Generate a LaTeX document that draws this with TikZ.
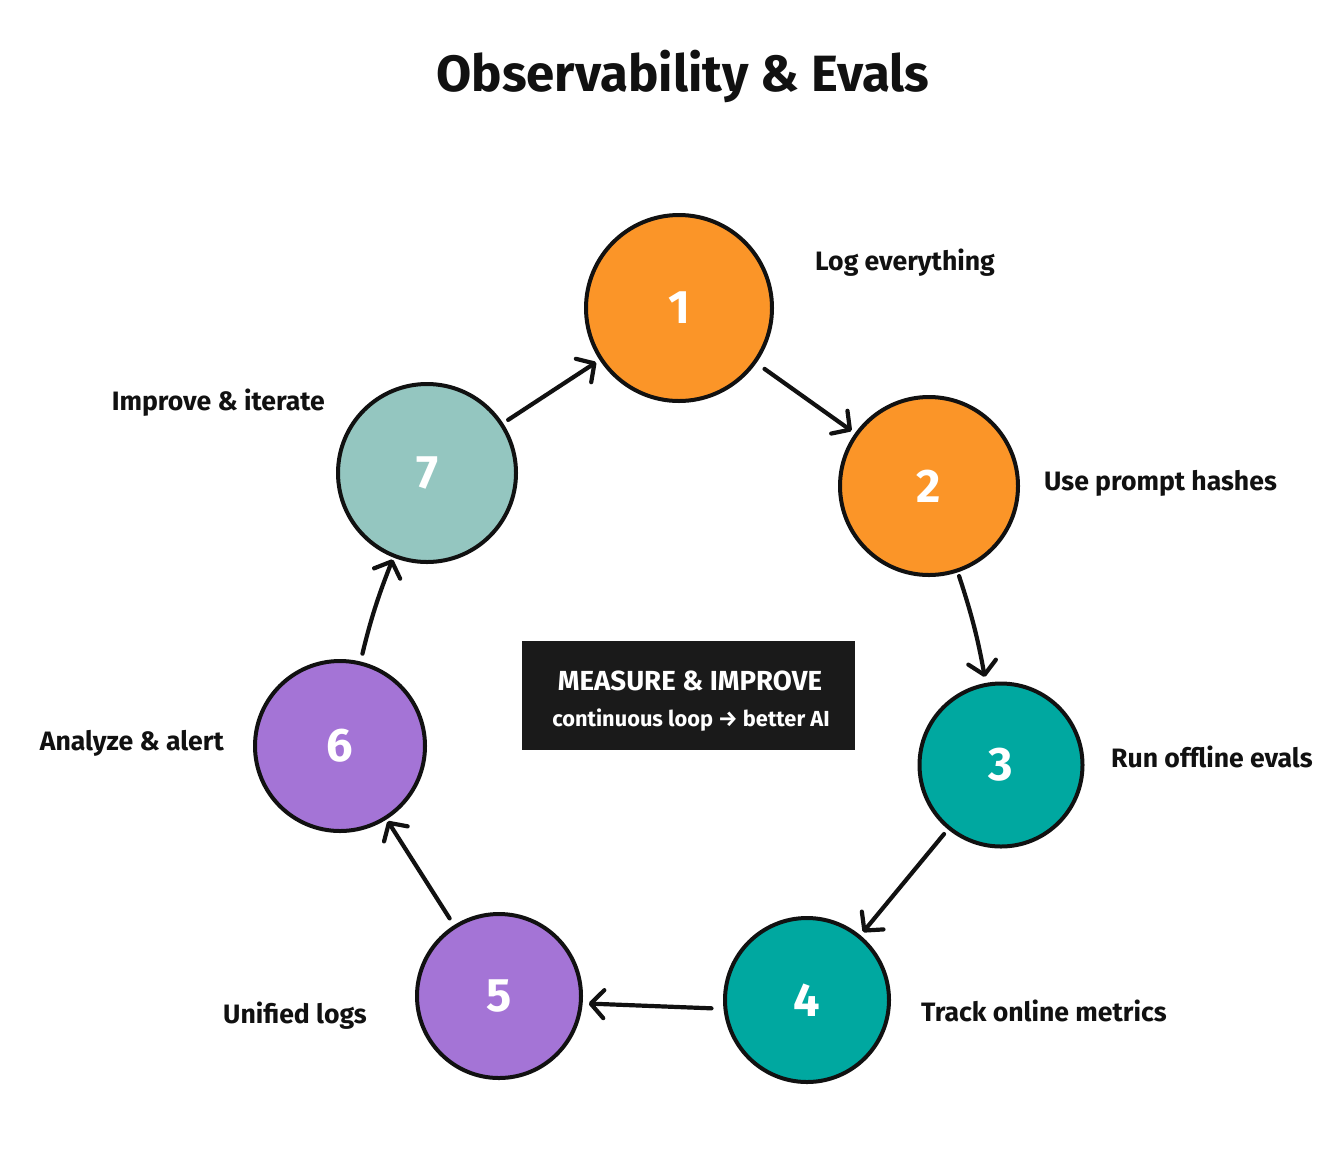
\documentclass[tikz,border=0pt]{standalone}
\usepackage{fontspec}
\setmainfont{Fira Sans}
\usetikzlibrary{arrows.meta}
\definecolor{corange}{HTML}{FB9528}
\definecolor{cteal}{HTML}{00A8A0}
\definecolor{cpurple}{HTML}{A474D6}
\definecolor{clight}{HTML}{94C6C0}
\definecolor{cbox}{HTML}{1A1A1A}
\definecolor{cink}{HTML}{111111}
\tikzset{
  x=1pt, y=-1pt,
  stepcircle/.style={circle, draw=cink, line width=4pt, inner sep=0pt,
    text=white, font=\bfseries\fontsize{47}{50}\selectfont},
  lbl/.style={text=cink, font=\bfseries\fontsize{26.6}{30}\selectfont, inner sep=0pt},
  arr/.style={draw=cink, line width=4.2pt, line cap=round,
    -{Straight Barb[length=13pt,width=28pt,line cap=round,line join=round]}},
}
\begin{document}
\begin{tikzpicture}
\useasboundingbox[fill=white] (0,0) rectangle (1343,1171);
\node[text=cink, font=\bfseries\fontsize{51}{60}\selectfont, anchor=base] (title) at (683,91) {Observability \& Evals};

\node[stepcircle, fill=corange, minimum size=186pt] (n1) at (679,308) {1};
\node[stepcircle, fill=corange, minimum size=178pt] (n2) at (929,486) {2};
\node[stepcircle, fill=cteal, minimum size=163pt] (n3) at (1001,765) {3};
\node[stepcircle, fill=cteal, minimum size=164pt] (n4) at (807,1000) {4};
\node[stepcircle, fill=cpurple, minimum size=164pt] (n5) at (499,996) {5};
\node[stepcircle, fill=cpurple, minimum size=170pt] (n6) at (340,746) {6};
\node[stepcircle, fill=clight, minimum size=178pt] (n7) at (427,473) {7};

\node[lbl, anchor=base west] (l1) at (815,270) {Log everything};
\node[lbl, anchor=base west] (l2) at (1044,490) {Use prompt hashes};
\node[lbl, anchor=base west] (l3) at (1111,767) {Run offline evals};
\node[lbl, anchor=base west] (l4) at (921,1021) {Track online metrics};
\node[lbl, anchor=base east] (l5) at (367,1023) {Unified logs};
\node[lbl, anchor=base east] (l6) at (224,750) {Analyze \& alert};
\node[lbl, anchor=base east] (l7) at (325,410) {Improve \& iterate};

\node[fill=cbox, minimum width=333pt, minimum height=109pt, inner sep=0pt] (box) at (688.5,695.5) {};
\node[text=white, font=\bfseries\fontsize{27.6}{30}\selectfont, anchor=base] (bt) at (690,690) {MEASURE \& IMPROVE};
\node[text=white, font=\bfseries\fontsize{21.8}{24}\selectfont, anchor=base] (bs) at (691,726) {continuous loop → better AI};

\draw[arr, shorten <=10pt, shorten >=4pt] (n1) -- (n2);
\draw[arr, shorten <=4pt, shorten >=6pt] (n2) to[bend left=4] (n3);
\draw[arr, shorten <=6pt, shorten >=4pt] (n3) -- (n4);
\draw[arr, shorten <=12pt, shorten >=6pt] (n4.186) -- (n5.355);
\draw[arr, shorten <=8pt, shorten >=2pt] (n5) -- (n6);
\draw[arr, shorten <=8pt, shorten >=2pt] (n6) to[bend left=4] (n7);
\draw[arr, shorten <=6pt, shorten >=4pt] (n7) -- (n1);
\end{tikzpicture}
\end{document}
